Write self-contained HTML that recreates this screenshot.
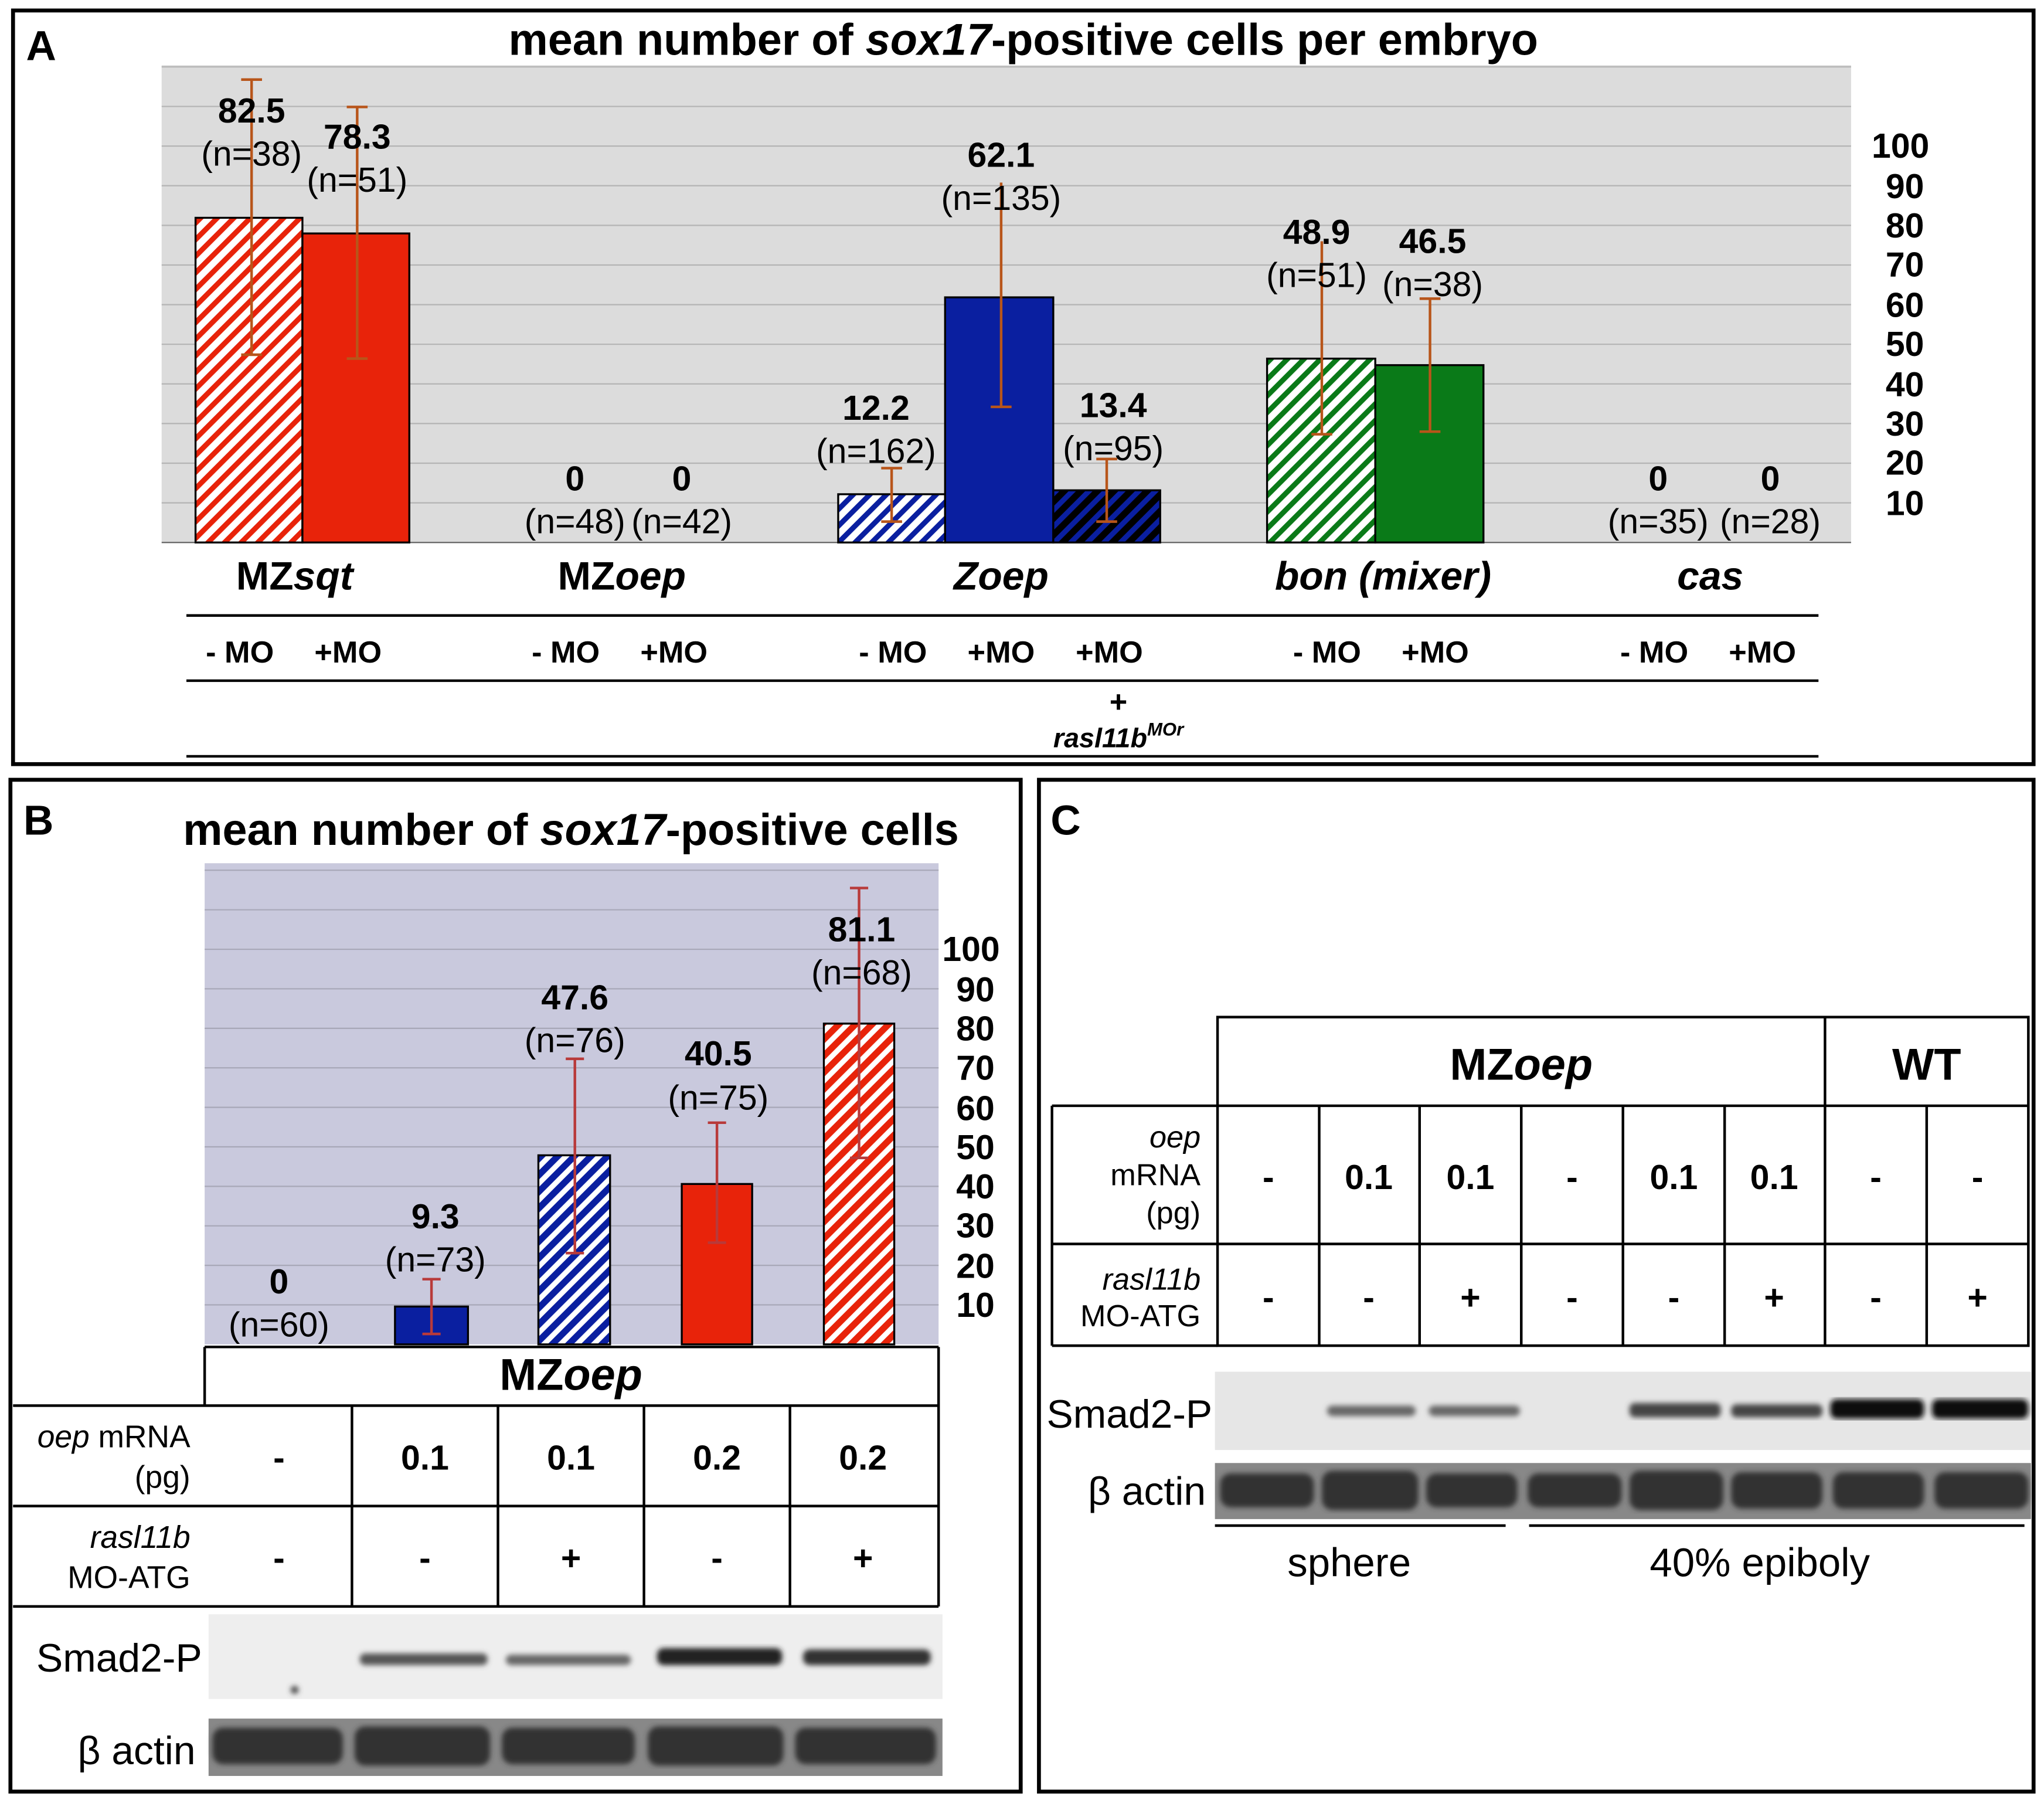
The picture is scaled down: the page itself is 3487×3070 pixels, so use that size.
<!DOCTYPE html>
<html><head><meta charset="utf-8"><style>
html,body{margin:0;padding:0;background:#fff}
svg{display:block}
text{font-family:"Liberation Sans",Arial,sans-serif}
.b{font-weight:bold}
</style></head><body>
<svg width="3487" height="3070" viewBox="0 0 1568 1380.4" xmlns="http://www.w3.org/2000/svg">
<defs>
<pattern id="hr" width="9" height="9" patternUnits="userSpaceOnUse" patternTransform="rotate(-45)"><rect width="9" height="9" fill="#fff"/><rect width="9" height="4" fill="#e8230a"/></pattern>
<pattern id="hb" width="9" height="9" patternUnits="userSpaceOnUse" patternTransform="rotate(-45)"><rect width="9" height="9" fill="#fff"/><rect width="9" height="4" fill="#0a1fa0"/></pattern>
<pattern id="hd" width="9" height="9" patternUnits="userSpaceOnUse" patternTransform="rotate(-45)"><rect width="9" height="9" fill="#000"/><rect width="9" height="4" fill="#0a1fa0"/></pattern>
<pattern id="hg" width="9" height="9" patternUnits="userSpaceOnUse" patternTransform="rotate(-45)"><rect width="9" height="9" fill="#fff"/><rect width="9" height="4" fill="#0a7a18"/></pattern>
<pattern id="hr2" width="9" height="9" patternUnits="userSpaceOnUse" patternTransform="rotate(-45)"><rect width="9" height="9" fill="#fff"/><rect width="9" height="5" fill="#e8230a"/></pattern>
<pattern id="hb2" width="9" height="9" patternUnits="userSpaceOnUse" patternTransform="rotate(-45)"><rect width="9" height="9" fill="#fff"/><rect width="9" height="5" fill="#0a1fa0"/></pattern>
<filter id="bl"><feGaussianBlur stdDeviation="2"/></filter>
</defs>
<rect width="1568" height="1380.4" fill="#fff"/>

<!-- PANEL A -->
<rect x="10" y="8" width="1550" height="578" fill="none" stroke="#000" stroke-width="3"/>
<text x="20" y="46" class="b" font-size="32">A</text>
<text x="785" y="42" class="b" font-size="34" text-anchor="middle">mean number of <tspan font-style="italic">sox17</tspan>-positive cells per embryo</text>
<rect x="124" y="50" width="1296" height="366" fill="#dcdcdc"/>
<g stroke="#b4b4b4" stroke-width="1">
<line x1="124" x2="1420" y1="385.6" y2="385.6"/><line x1="124" x2="1420" y1="355.2" y2="355.2"/><line x1="124" x2="1420" y1="324.8" y2="324.8"/><line x1="124" x2="1420" y1="294.4" y2="294.4"/><line x1="124" x2="1420" y1="264" y2="264"/><line x1="124" x2="1420" y1="233.6" y2="233.6"/><line x1="124" x2="1420" y1="203.2" y2="203.2"/><line x1="124" x2="1420" y1="172.8" y2="172.8"/><line x1="124" x2="1420" y1="142.4" y2="142.4"/><line x1="124" x2="1420" y1="112" y2="112"/><line x1="124" x2="1420" y1="81.6" y2="81.6"/><line x1="124" x2="1420" y1="51.2" y2="51.2"/>
</g>
<line x1="124" x2="1420" y1="416" y2="416" stroke="#666"/>
<g class="b" font-size="26.5" text-anchor="end">
<text x="1480" y="121">100</text><text x="1476" y="152">90</text><text x="1476" y="182">80</text><text x="1476" y="212">70</text><text x="1476" y="243">60</text><text x="1476" y="273">50</text><text x="1476" y="304">40</text><text x="1476" y="334">30</text><text x="1476" y="364">20</text><text x="1476" y="395">10</text>
</g>
<g stroke="#000" stroke-width="1.5">
<rect x="150" y="167" width="82" height="249" fill="url(#hr)"/>
<rect x="232" y="179" width="82" height="237" fill="#e8230a"/>
<rect x="643" y="379" width="82" height="37" fill="url(#hb)"/>
<rect x="725" y="228" width="83" height="188" fill="#0a1fa0"/>
<rect x="808" y="376" width="82" height="40" fill="url(#hd)"/>
<rect x="972" y="275" width="83" height="141" fill="url(#hg)"/>
<rect x="1055" y="280" width="83" height="136" fill="#0a7a18"/>
</g>
<g stroke="#b8551a" stroke-width="2">
<line x1="193" x2="193" y1="61" y2="272"/><line x1="185" x2="201" y1="61" y2="61"/><line x1="185" x2="201" y1="272" y2="272"/>
<line x1="274" x2="274" y1="82" y2="275"/><line x1="266" x2="282" y1="82" y2="82"/><line x1="266" x2="282" y1="275" y2="275"/>
<line x1="684" x2="684" y1="359" y2="400"/><line x1="676" x2="692" y1="359" y2="359"/><line x1="676" x2="692" y1="400" y2="400"/>
<line x1="768" x2="768" y1="140" y2="312"/><line x1="760" x2="776" y1="312" y2="312"/>
<line x1="849" x2="849" y1="352" y2="400"/><line x1="841" x2="857" y1="352" y2="352"/><line x1="841" x2="857" y1="400" y2="400"/>
<line x1="1014" x2="1014" y1="185" y2="333"/><line x1="1006" x2="1022" y1="333" y2="333"/>
<line x1="1097" x2="1097" y1="229" y2="331"/><line x1="1089" x2="1105" y1="229" y2="229"/><line x1="1089" x2="1105" y1="331" y2="331"/>
</g>
<g font-size="26.5" text-anchor="middle">
<text x="193" y="94" class="b">82.5</text><text x="193" y="127">(n=38)</text>
<text x="274" y="114" class="b">78.3</text><text x="274" y="147">(n=51)</text>
<text x="441" y="376" class="b">0</text><text x="441" y="409">(n=48)</text>
<text x="523" y="376" class="b">0</text><text x="523" y="409">(n=42)</text>
<text x="672" y="322" class="b">12.2</text><text x="672" y="355">(n=162)</text>
<text x="768" y="128" class="b">62.1</text><text x="768" y="161">(n=135)</text>
<text x="854" y="320" class="b">13.4</text><text x="854" y="353">(n=95)</text>
<text x="1010" y="187" class="b">48.9</text><text x="1010" y="220">(n=51)</text>
<text x="1099" y="194" class="b">46.5</text><text x="1099" y="227">(n=38)</text>
<text x="1272" y="376" class="b">0</text><text x="1272" y="409">(n=35)</text>
<text x="1358" y="376" class="b">0</text><text x="1358" y="409">(n=28)</text>
</g>
<g font-size="30.5" class="b" text-anchor="middle">
<text x="226" y="452">MZ<tspan font-style="italic">sqt</tspan></text>
<text x="477" y="452">MZ<tspan font-style="italic">oep</tspan></text>
<text x="768" y="452" font-style="italic">Zoep</text>
<text x="1061" y="452" font-style="italic">bon (mixer)</text>
<text x="1312" y="452" font-style="italic">cas</text>
</g>
<line x1="143" x2="1395" y1="472" y2="472" stroke="#000" stroke-width="2"/>
<g font-size="23.5" class="b" text-anchor="middle">
<text x="184" y="508">- MO</text><text x="267" y="508">+MO</text>
<text x="434" y="508">- MO</text><text x="517" y="508">+MO</text>
<text x="685" y="508">- MO</text><text x="768" y="508">+MO</text><text x="851" y="508">+MO</text>
<text x="1018" y="508">- MO</text><text x="1101" y="508">+MO</text>
<text x="1269" y="508">- MO</text><text x="1352" y="508">+MO</text>
<text x="858" y="546">+</text>
<text x="858" y="573" font-style="italic" font-size="21">rasl11b<tspan font-size="14" dy="-9">MOr</tspan></text>
</g>
<line x1="143" x2="1395" y1="522" y2="522" stroke="#000" stroke-width="2"/>
<line x1="143" x2="1395" y1="580" y2="580" stroke="#000" stroke-width="2"/>

<!-- PANEL B -->
<rect x="8" y="598" width="775" height="776" fill="none" stroke="#000" stroke-width="3"/>
<text x="18" y="640" class="b" font-size="32">B</text>
<text x="438" y="648" class="b" font-size="34" text-anchor="middle">mean number of <tspan font-style="italic">sox17</tspan>-positive cells</text>
<rect x="157" y="662" width="563" height="369" fill="#c9c9dd"/>
<g stroke="#a8a8b8" stroke-width="1">
<line x1="157" x2="720" y1="1000.7" y2="1000.7"/><line x1="157" x2="720" y1="970.4" y2="970.4"/><line x1="157" x2="720" y1="940.1" y2="940.1"/><line x1="157" x2="720" y1="909.8" y2="909.8"/><line x1="157" x2="720" y1="879.5" y2="879.5"/><line x1="157" x2="720" y1="849.2" y2="849.2"/><line x1="157" x2="720" y1="818.9" y2="818.9"/><line x1="157" x2="720" y1="788.6" y2="788.6"/><line x1="157" x2="720" y1="758.3" y2="758.3"/><line x1="157" x2="720" y1="728" y2="728"/><line x1="157" x2="720" y1="697.7" y2="697.7"/><line x1="157" x2="720" y1="667.4" y2="667.4"/>
</g>
<g class="b" font-size="26.5" text-anchor="end">
<text x="767" y="737">100</text><text x="763" y="768">90</text><text x="763" y="798">80</text><text x="763" y="828">70</text><text x="763" y="859">60</text><text x="763" y="889">50</text><text x="763" y="919">40</text><text x="763" y="949">30</text><text x="763" y="980">20</text><text x="763" y="1010">10</text>
</g>
<g stroke="#000" stroke-width="1.5">
<rect x="303" y="1002" width="56" height="29" fill="#0a1fa0"/>
<rect x="413" y="886" width="55" height="145" fill="url(#hb2)"/>
<rect x="523" y="908" width="54" height="123" fill="#e8230a"/>
<rect x="632" y="785" width="54" height="246" fill="url(#hr2)"/>
</g>
<g stroke="#b83a3a" stroke-width="2">
<line x1="331" x2="331" y1="981" y2="1023"/><line x1="324" x2="338" y1="981" y2="981"/><line x1="324" x2="338" y1="1023" y2="1023"/>
<line x1="441" x2="441" y1="812" y2="961"/><line x1="434" x2="448" y1="812" y2="812"/><line x1="434" x2="448" y1="961" y2="961"/>
<line x1="550" x2="550" y1="861" y2="953"/><line x1="543" x2="557" y1="861" y2="861"/><line x1="543" x2="557" y1="953" y2="953"/>
<line x1="659" x2="659" y1="681" y2="888"/><line x1="652" x2="666" y1="681" y2="681"/><line x1="652" x2="666" y1="888" y2="888"/>
</g>
<g font-size="26.5" text-anchor="middle">
<text x="214" y="992" class="b">0</text><text x="214" y="1025">(n=60)</text>
<text x="334" y="942" class="b">9.3</text><text x="334" y="975">(n=73)</text>
<text x="441" y="774" class="b">47.6</text><text x="441" y="807">(n=76)</text>
<text x="551" y="817" class="b">40.5</text><text x="551" y="851">(n=75)</text>
<text x="661" y="722" class="b">81.1</text><text x="661" y="755">(n=68)</text>
</g>
<g stroke="#000" stroke-width="2">
<line x1="157" x2="720" y1="1033" y2="1033"/><line x1="10" x2="720" y1="1078" y2="1078"/><line x1="10" x2="720" y1="1155" y2="1155"/><line x1="10" x2="720" y1="1232" y2="1232"/>
<line x1="157" x2="157" y1="1033" y2="1078"/><line x1="720" x2="720" y1="1033" y2="1232"/>
<line x1="270" x2="270" y1="1078" y2="1232"/><line x1="382" x2="382" y1="1078" y2="1232"/><line x1="494" x2="494" y1="1078" y2="1232"/><line x1="606" x2="606" y1="1078" y2="1232"/>
</g>
<text x="438" y="1066" class="b" font-size="34" text-anchor="middle">MZ<tspan font-style="italic">oep</tspan></text>
<g font-size="24" text-anchor="end">
<text x="146" y="1110"><tspan font-style="italic">oep</tspan> mRNA</text><text x="146" y="1141">(pg)</text>
<text x="146" y="1187" font-style="italic">rasl11b</text><text x="146" y="1218">MO-ATG</text>
</g>
<g font-size="26.5" class="b" text-anchor="middle">
<text x="214" y="1127">-</text><text x="326" y="1127">0.1</text><text x="438" y="1127">0.1</text><text x="550" y="1127">0.2</text><text x="662" y="1127">0.2</text>
<text x="214" y="1204">-</text><text x="326" y="1204">-</text><text x="438" y="1204">+</text><text x="550" y="1204">-</text><text x="662" y="1204">+</text>
</g>
<rect x="160" y="1238" width="563" height="65" fill="#eeeeee"/>
<g filter="url(#bl)" fill="#333">
<rect x="276" y="1268" width="98" height="9" rx="4" fill="#555"/>
<rect x="388" y="1269" width="96" height="8" rx="4" fill="#666"/>
<rect x="504" y="1264" width="96" height="13" rx="5" fill="#222"/>
<rect x="616" y="1265" width="98" height="12" rx="5" fill="#333"/>
<circle cx="226" cy="1296" r="3" fill="#444"/>
</g>
<text x="155" y="1282" font-size="30.5" text-anchor="end">Smad2-P</text>
<rect x="160" y="1318" width="563" height="44" fill="#888"/>
<g filter="url(#bl)" fill="#333">
<rect x="163" y="1325" width="100" height="28" rx="8"/><rect x="272" y="1324" width="104" height="30" rx="8"/><rect x="385" y="1325" width="102" height="28" rx="8"/><rect x="497" y="1324" width="104" height="30" rx="8"/><rect x="610" y="1325" width="108" height="28" rx="8"/>
</g>
<text x="150" y="1353" font-size="30.5" text-anchor="end">β actin</text>

<!-- PANEL C -->
<rect x="797" y="598" width="763" height="776" fill="none" stroke="#000" stroke-width="3"/>
<text x="806" y="640" class="b" font-size="32">C</text>
<g stroke="#000" stroke-width="2" fill="none">
<rect x="934" y="780" width="622" height="252"/>
<line x1="807" x2="1556" y1="848" y2="848"/><line x1="807" x2="1556" y1="954" y2="954"/><line x1="807" x2="934" y1="1032" y2="1032"/>
<line x1="807" x2="807" y1="848" y2="1032"/>
<line x1="1400" x2="1400" y1="780" y2="1032"/>
<line x1="1012" x2="1012" y1="848" y2="1032"/><line x1="1089" x2="1089" y1="848" y2="1032"/><line x1="1167" x2="1167" y1="848" y2="1032"/><line x1="1245" x2="1245" y1="848" y2="1032"/><line x1="1323" x2="1323" y1="848" y2="1032"/><line x1="1478" x2="1478" y1="848" y2="1032"/>
</g>
<text x="1167" y="828" class="b" font-size="34" text-anchor="middle">MZ<tspan font-style="italic">oep</tspan></text>
<text x="1478" y="828" class="b" font-size="34" text-anchor="middle">WT</text>
<g font-size="23.5" text-anchor="end">
<text x="921" y="880" font-style="italic">oep</text><text x="921" y="909">mRNA</text><text x="921" y="938">(pg)</text>
<text x="921" y="989" font-style="italic">rasl11b</text><text x="921" y="1017">MO-ATG</text>
</g>
<g font-size="26.5" class="b" text-anchor="middle">
<text x="973" y="912">-</text><text x="1050" y="912">0.1</text><text x="1128" y="912">0.1</text><text x="1206" y="912">-</text><text x="1284" y="912">0.1</text><text x="1361" y="912">0.1</text><text x="1439" y="912">-</text><text x="1517" y="912">-</text>
<text x="973" y="1004">-</text><text x="1050" y="1004">-</text><text x="1128" y="1004">+</text><text x="1206" y="1004">-</text><text x="1284" y="1004">-</text><text x="1361" y="1004">+</text><text x="1439" y="1004">-</text><text x="1517" y="1004">+</text>
</g>
<rect x="932" y="1052" width="626" height="60" fill="#e6e6e6"/>
<g filter="url(#bl)">
<rect x="1018" y="1078" width="68" height="8" rx="4" fill="#666"/>
<rect x="1096" y="1078" width="70" height="8" rx="4" fill="#666"/>
<rect x="1250" y="1076" width="70" height="11" rx="4" fill="#444"/>
<rect x="1328" y="1077" width="70" height="10" rx="4" fill="#444"/>
<rect x="1404" y="1073" width="72" height="15" rx="5" fill="#111"/>
<rect x="1482" y="1073" width="74" height="15" rx="5" fill="#111"/>
</g>
<text x="930" y="1095" font-size="30.5" text-anchor="end">Smad2-P</text>
<rect x="932" y="1122" width="626" height="43" fill="#888"/>
<g filter="url(#bl)" fill="#333">
<rect x="936" y="1130" width="72" height="26" rx="8"/><rect x="1014" y="1128" width="74" height="30" rx="8"/><rect x="1094" y="1130" width="70" height="26" rx="8"/><rect x="1172" y="1130" width="72" height="26" rx="8"/><rect x="1250" y="1128" width="72" height="30" rx="8"/><rect x="1328" y="1129" width="70" height="28" rx="8"/><rect x="1406" y="1129" width="70" height="28" rx="8"/><rect x="1484" y="1129" width="72" height="28" rx="8"/>
</g>
<text x="925" y="1154" font-size="30.5" text-anchor="end">β actin</text>
<line x1="932" x2="1155" y1="1170" y2="1170" stroke="#000" stroke-width="2"/>
<line x1="1173" x2="1553" y1="1170" y2="1170" stroke="#000" stroke-width="2"/>
<text x="1035" y="1209" font-size="31" text-anchor="middle">sphere</text>
<text x="1350" y="1209" font-size="31" text-anchor="middle">40% epiboly</text>
</svg>
</body></html>
